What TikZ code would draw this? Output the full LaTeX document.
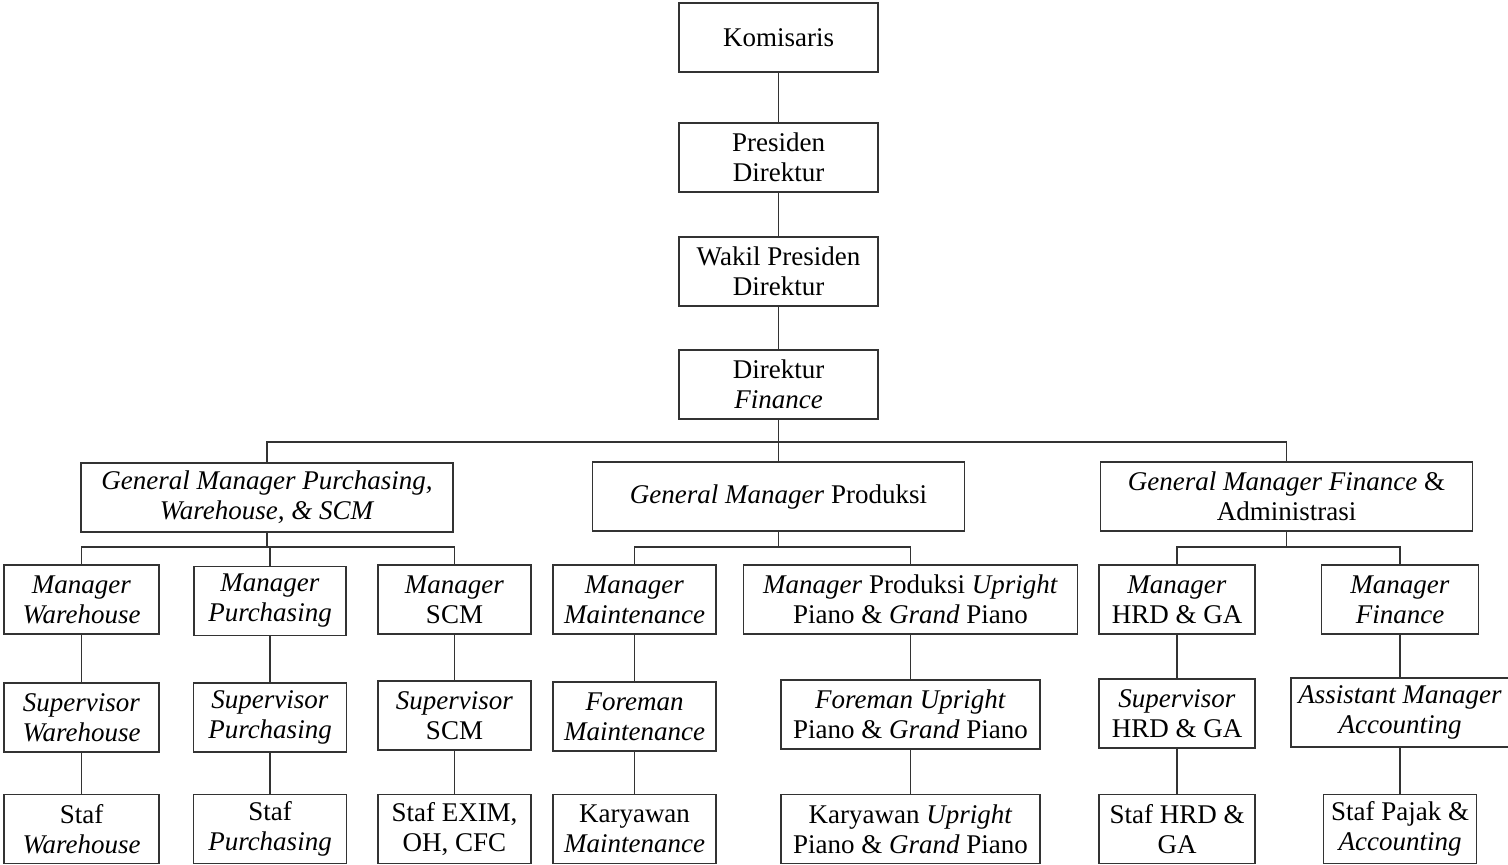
\documentclass[tikz,border=0pt]{standalone}
\usepackage{fontspec}
\setmainfont{Liberation Serif}

\tikzset{
  jabatan/.style={draw=black!80, line width=0.6pt, align=center, inner sep=0pt,
    minimum height=34.5pt, font=\fontsize{13.5}{15}\selectfont},
  garis/.style={draw=black!80, line width=0.6pt}
}

\begin{document}
\begin{tikzpicture}[x=0.5pt, y=-0.5pt]
\useasboundingbox (0,0) rectangle (1508,864);

% Direksi
\node[jabatan, minimum width=99.5pt] (kom) at (778.5,37.5) {Komisaris};
\node[jabatan, minimum width=99.5pt] (pres) at (778.5,157.5) {Presiden\\Direktur};
\node[jabatan, minimum width=99.5pt] (wpres) at (778.5,271.5) {Wakil Presiden\\Direktur};
\node[jabatan, minimum width=99.5pt] (dirf) at (778.5,384.5) {Direktur\\\textit{Finance}};

% General Manager
\node[jabatan, minimum width=186pt] (gmpw) at (267,497.5) {\textit{General Manager Purchasing,}\\\textit{Warehouse, \& SCM}};
\node[jabatan, minimum width=186pt] (gmprod) at (778.5,496.5) {\textit{General Manager} Produksi};
\node[jabatan, minimum width=186pt] (gmfa) at (1286.5,496.5) {\textit{General Manager Finance} \&\\Administrasi};

% Manager
\node[jabatan, minimum width=77.5pt] (mwh) at (81.5,599.5) {\textit{Manager}\\\textit{Warehouse}};
\node[jabatan, minimum width=76pt] (mpur) at (270,601) {\textit{Manager}\\\textit{Purchasing}};
\node[jabatan, minimum width=76.5pt] (mscm) at (454.5,599.5) {\textit{Manager}\\SCM};
\node[jabatan, minimum width=81.5pt] (mmtc) at (634.5,599.5) {\textit{Manager}\\\textit{Maintenance}};
\node[jabatan, minimum width=167pt] (mup) at (910.5,599.5) {\textit{Manager} Produksi \textit{Upright}\\Piano \& \textit{Grand} Piano};
\node[jabatan, minimum width=78pt] (mhrd) at (1177,599.5) {\textit{Manager}\\HRD \& GA};
\node[jabatan, minimum width=78.5pt] (mfin) at (1400,599.5) {\textit{Manager}\\\textit{Finance}};

% Supervisor / Foreman
\node[jabatan, minimum width=77.5pt] (swh) at (81.5,717.5) {\textit{Supervisor}\\\textit{Warehouse}};
\node[jabatan, minimum width=76.5pt] (spur) at (270,717.5) {\textit{Supervisor}\\\textit{Purchasing}};
\node[jabatan, minimum width=76.5pt] (sscm) at (454.5,715.5) {\textit{Supervisor}\\SCM};
\node[jabatan, minimum width=81.5pt] (fmtc) at (634.5,716.5) {\textit{Foreman}\\\textit{Maintenance}};
\node[jabatan, minimum width=129.5pt] (fup) at (910.5,714.5) {\textit{Foreman Upright}\\Piano \& \textit{Grand} Piano};
\node[jabatan, minimum width=78pt] (shrd) at (1177,713.5) {\textit{Supervisor}\\HRD \& GA};
\node[jabatan, minimum width=109pt] (aacc) at (1400,712.5) {\textit{Assistant Manager}\\\textit{Accounting}};

% Staf / Karyawan
\node[jabatan, minimum width=77.5pt] (stwh) at (81.5,829) {Staf\\\textit{Warehouse}};
\node[jabatan, minimum width=76.5pt] (stpur) at (270,829) {Staf\\\textit{Purchasing}};
\node[jabatan, minimum width=76.5pt] (stexim) at (454.5,829) {Staf EXIM,\\OH, CFC};
\node[jabatan, minimum width=81.5pt] (kmtc) at (634.5,829) {Karyawan\\\textit{Maintenance}};
\node[jabatan, minimum width=129.5pt] (kup) at (910.5,829) {Karyawan \textit{Upright}\\Piano \& \textit{Grand} Piano};
\node[jabatan, minimum width=78pt] (sthrd) at (1177,829) {Staf HRD \&\\GA};
\node[jabatan, minimum width=76.5pt] (stacc) at (1400,829) {Staf Pajak \&\\\textit{Accounting}};

% Garis direksi
\draw[garis] (kom) -- (pres);
\draw[garis] (pres) -- (wpres);
\draw[garis] (wpres) -- (dirf);

% Garis ke general manager
\coordinate (busA) at (0,442);
\draw[garis] (dirf) -- (gmprod);
\draw[garis] (gmpw.north) -- (gmpw.north |- busA) -- (gmfa.north |- busA) -- (gmfa.north);

% Garis ke manager
\coordinate (busB) at (0,547);
\foreach \g/\ka/\ki in {gmpw/mwh/mscm, gmprod/mmtc/mup, gmfa/mhrd/mfin} {
  \draw[garis] (\g.south) -- (\g.south |- busB);
  \draw[garis] (\ka.north) -- (\ka.north |- busB) -- (\ki.north |- busB) -- (\ki.north);
}
\draw[garis] (mpur.north) -- (mpur.north |- busB);

% Garis ke bawah
\foreach \a/\b in {mwh/swh, swh/stwh, mpur/spur, spur/stpur, mscm/sscm, sscm/stexim,
                   mmtc/fmtc, fmtc/kmtc, mup/fup, fup/kup, mhrd/shrd, shrd/sthrd,
                   mfin/aacc, aacc/stacc}
  \draw[garis] (\a) -- (\b);
\end{tikzpicture}
\end{document}
